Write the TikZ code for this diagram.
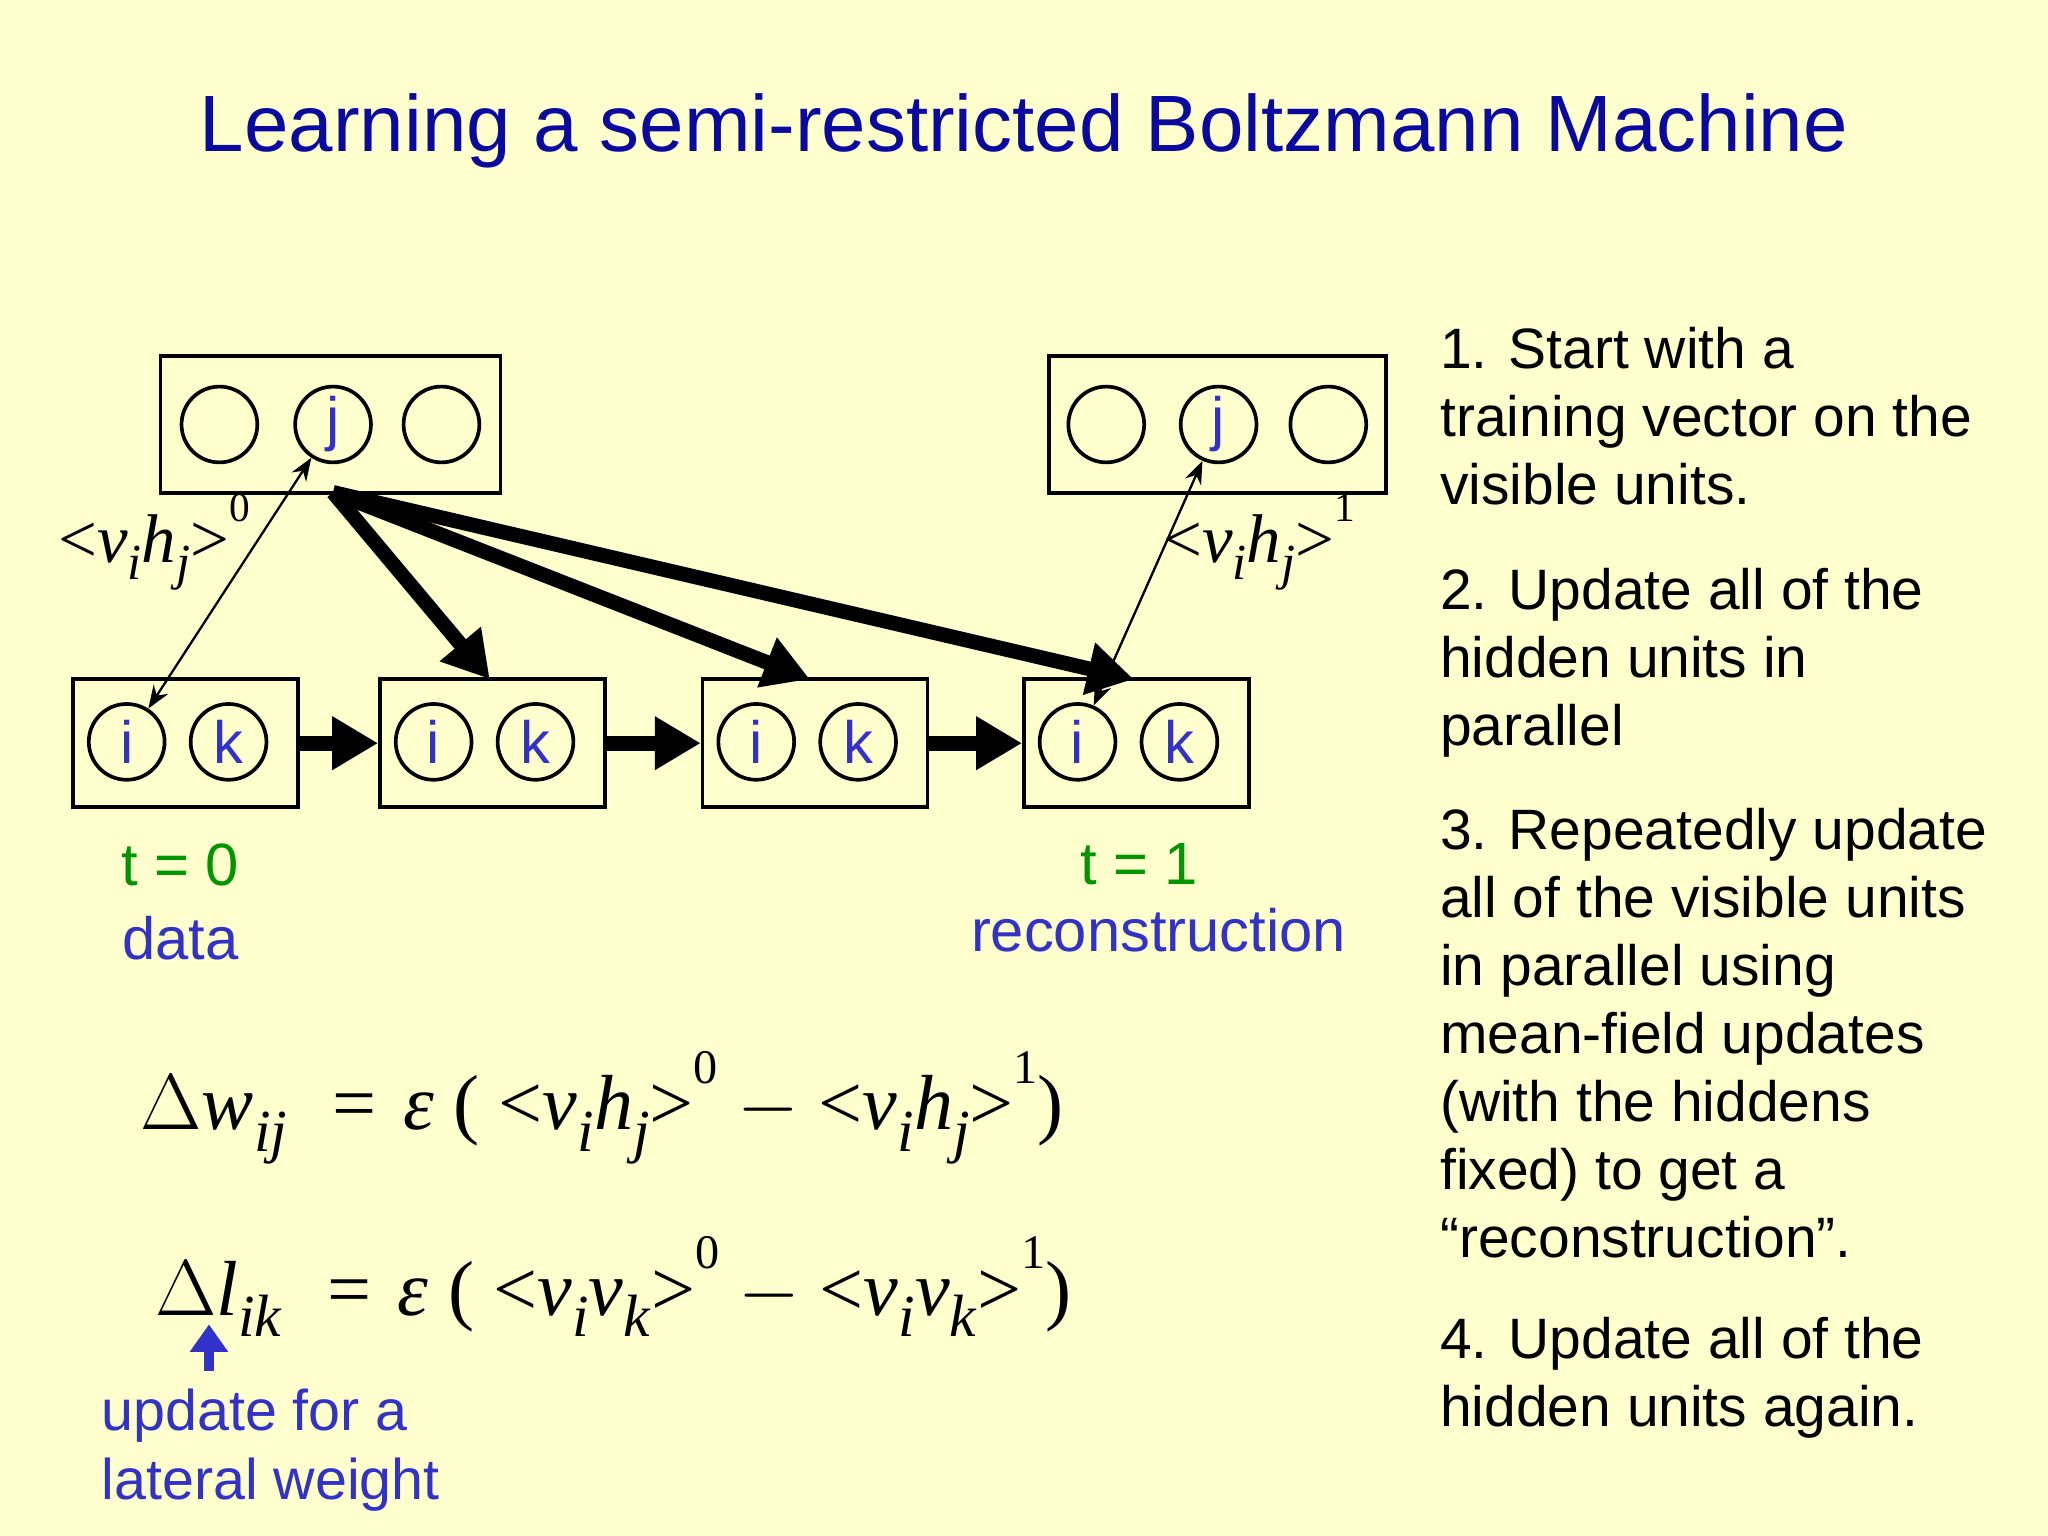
\documentclass[tikz,border=0pt]{standalone}
\usepackage{fontspec}
\setmainfont{Liberation Sans}
\newfontfamily\serifit{Liberation Serif}
\usetikzlibrary{arrows.meta}
\definecolor{bg}{RGB}{255,255,206}
\definecolor{ttl}{RGB}{10,10,160}
\definecolor{ublue}{RGB}{50,50,200}
\definecolor{tgreen}{RGB}{0,150,0}
\newcommand{\sbA}[1]{\raisebox{-0.55ex}{\fontsize{11pt}{11pt}\selectfont\textit{#1}}}
\newcommand{\spA}[1]{\raisebox{1.3ex}{\fontsize{9pt}{9pt}\selectfont #1}}
\newcommand{\sbB}[1]{\raisebox{-0.6ex}{\fontsize{13pt}{13pt}\selectfont\textit{#1}}}
\newcommand{\spB}[1]{\raisebox{1.3ex}{\fontsize{10.5pt}{10.5pt}\selectfont #1}}
\begin{document}
\begin{tikzpicture}[x=0.01cm,y=-0.01cm,
  layer/.style={draw,fill=bg,line width=0.8pt,inner sep=0pt},
  unit/.style={draw,circle,minimum size=0.58cm,inner sep=0pt,line width=0.8pt,text=ublue,font=\fontsize{13pt}{13pt}\selectfont},
  thick arrow/.style={line width=3.2pt,-{Triangle[length=10pt,width=11pt]}},
  thin arrow/.style={line width=0.5pt,{Stealth[length=5pt]}-{Stealth[length=5pt]}},
  rt/.style={align=left,anchor=north west,font=\fontsize{12.4pt}{14.8pt}\selectfont,inner sep=0pt},
  mth/.style={font=\serifit\fontsize{15pt}{15pt}\selectfont,inner sep=0pt}]
\fill[bg] (0,0) rectangle (1568,1176);
\useasboundingbox (0,0) rectangle (1568,1176);
\node[text=ttl,font=\fontsize{17.4pt}{20pt}\selectfont] (title) at (784,100) {Learning a semi-restricted Boltzmann Machine};
% hidden layers
\node[layer,minimum width=2.6cm,minimum height=1.05cm] (hl) at (253,325) {};
\node[unit] (hl1) at (168,325) {};
\node[unit] (hlj) at (255,325) {j};
\node[unit] (hl3) at (338,325) {};
\node[layer,minimum width=2.58cm,minimum height=1.05cm] (hr) at (932,325) {};
\node[unit] (hr1) at (847,325) {};
\node[unit] (hrj) at (933,325) {j};
\node[unit] (hr3) at (1017,325) {};
% visible layers
\foreach \n/\x in {1/142,2/377,3/624,4/870}{
  \node[layer,minimum width=1.72cm,minimum height=0.98cm] (v\n) at (\x,569) {};
  \node[unit] (i\n) at (\x-45,568) {i};
  \node[unit] (k\n) at (\x+33,568) {k};
}
\draw[thick arrow] (v1.east) -- (v2.west);
\draw[thick arrow] (v2.east) -- (v3.west);
\draw[thick arrow] (v3.east) -- (v4.west);
\coordinate (src) at (255,377);
\draw[thick arrow] (src) -- (375,520);
\draw[thick arrow] (src) -- (620,520);
\draw[thick arrow] (src) -- (868,520);
\draw[thin arrow] (hlj) -- (i1);
\draw[thin arrow] (hrj) -- (i4);
\node[mth] (l0) at (118,415) {<\textit{v}\sbA{i}\textit{h}\sbA{j}>\spA{0}};
\node[mth] (l1) at (964,415) {<\textit{v}\sbA{i}\textit{h}\sbA{j}>\spA{1}};
\node[text=tgreen,font=\fontsize{13pt}{13pt}\selectfont] (t0) at (138,662) {t = 0};
\node[text=ublue,font=\fontsize{13pt}{13pt}\selectfont] (data) at (138,718) {data};
\node[text=tgreen,font=\fontsize{13pt}{13pt}\selectfont] (t1) at (872,662) {t = 1};
\node[text=ublue,font=\fontsize{13pt}{13pt}\selectfont] (rec) at (887,712) {reconstruction};
% equations
\node[mth,anchor=west,font=\serifit\fontsize{17pt}{17pt}\selectfont] (eq1) at (107,848) {$\Delta$\textit{w}\sbB{ij}\hspace{0.35cm}=\hspace{0.2cm}\textit{ε} ( <\textit{v}\sbB{i}\textit{h}\sbB{j}>\spB{0} $-$ <\textit{v}\sbB{i}\textit{h}\sbB{j}>\spB{1})};
\node[mth,anchor=west,font=\serifit\fontsize{17pt}{17pt}\selectfont] (eq2) at (118,985) {$\Delta$\textit{l}\sbB{ik}\hspace{0.35cm}=\hspace{0.2cm}\textit{ε} ( <\textit{v}\sbB{i}\textit{v}\sbB{k}>\spB{0} $-$ <\textit{v}\sbB{i}\textit{v}\sbB{k}>\spB{1})};
\coordinate (ua) at (160,1050);
\coordinate (ub) at (160,1014);
\draw[ublue,line width=2pt,-{Triangle[length=6pt,width=8pt]}] (ua) -- (ub);
\node[rt,text=ublue,font=\fontsize{12.5pt}{15pt}\selectfont] (upd) at (77,1063) {update for a\\lateral weight};
% right text
\node[rt] (s1) at (1102,250) {1. Start with a\\training vector on the\\visible units.};
\node[rt] (s2) at (1102,434) {2. Update all of the\\hidden units in\\parallel};
\node[rt] (s3) at (1102,618) {3. Repeatedly update\\all of the visible units\\in parallel using\\mean-field updates\\(with the hiddens\\fixed) to get a\\“reconstruction”.};
\node[rt] (s4) at (1102,1008) {4. Update all of the\\hidden units again.};
\end{tikzpicture}
\end{document}
